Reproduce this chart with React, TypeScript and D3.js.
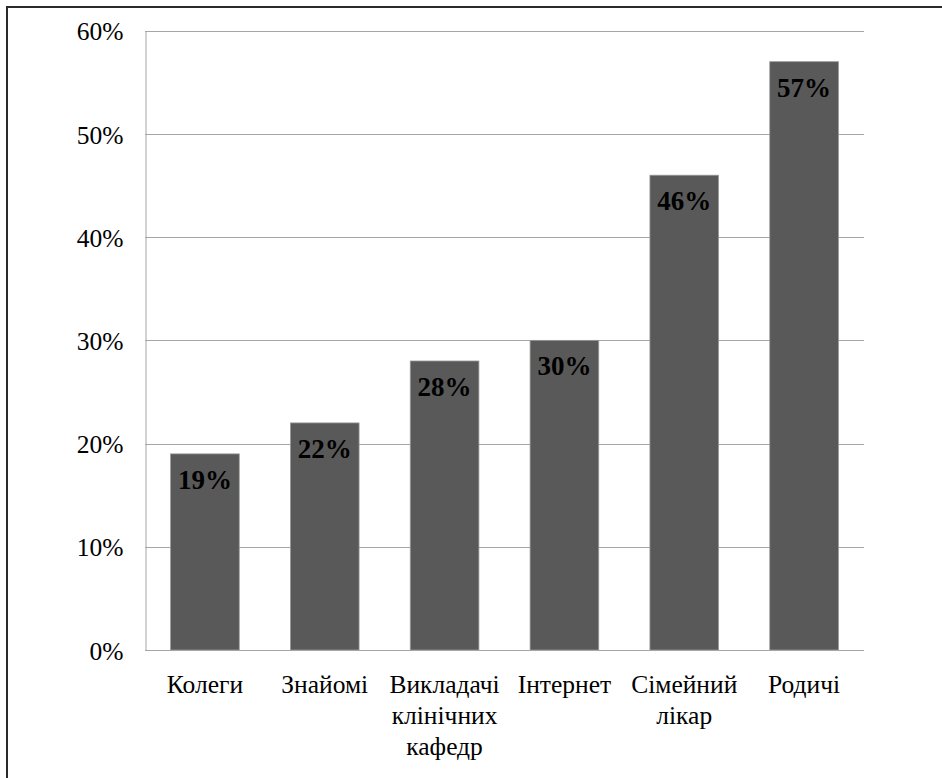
import { axisLeft, scaleBand, scaleLinear, select } from "d3";
import { useEffect, useRef } from "react";

const categories = [
  ["Колеги"],
  ["Знайомі"],
  ["Викладачі", "клінічних", "кафедр"],
  ["Інтернет"],
  ["Сімейний", "лікар"],
  ["Родичі"],
];
const values = [19, 22, 28, 30, 46, 57];
const yTicks = [0, 10, 20, 30, 40, 50, 60];

const width = 942;
const height = 778;
const margin = { top: 30.7, right: 78, bottom: 128, left: 145 };
const font = "Liberation Serif";

const App = () => {
  const ref = useRef<SVGSVGElement>(null);

  useEffect(() => {
    if (!ref.current) return;
    const svg = select(ref.current);
    svg.selectAll("*").remove();

    const x = scaleBand<number>()
      .domain(values.map((_, i) => i))
      .range([margin.left, width - margin.right])
      .paddingInner(0.427)
      .paddingOuter(0.2135);

    const y = scaleLinear()
      .domain([0, 60])
      .range([height - margin.bottom, margin.top]);

    // outer frame (right and bottom edges sit outside the picture)
    svg
      .append("rect")
      .attr("x", 7)
      .attr("y", 7)
      .attr("width", width)
      .attr("height", height)
      .attr("fill", "none")
      .attr("stroke", "#2b2b2b")
      .attr("stroke-width", 2);

    // grid
    svg
      .append("g")
      .selectAll("line")
      .data(yTicks.slice(1))
      .join("line")
      .attr("x1", margin.left)
      .attr("x2", width - margin.right)
      .attr("y1", (d) => Math.round(y(d)) + 0.5)
      .attr("y2", (d) => Math.round(y(d)) + 0.5)
      .attr("stroke", "#a6a6a6")
      .attr("stroke-width", 1);

    // y axis
    const yAxis = axisLeft(y)
      .tickValues(yTicks)
      .tickSize(0)
      .tickPadding(22)
      .tickFormat((d) => `${d}%`);

    const gy = svg
      .append("g")
      .attr("transform", `translate(${margin.left + 0.5},0)`)
      .call(yAxis)
      .attr("font-family", null)
      .attr("font-size", null);
    gy.select(".domain").attr("stroke", "#a6a6a6");
    gy.selectAll("text")
      .style("font-family", font)
      .style("font-size", "25.5px")
      .attr("fill", "#000")
      .attr("dy", "0.36em");

    // bars
    svg
      .append("g")
      .selectAll("rect")
      .data(values)
      .join("rect")
      .attr("x", (_, i) => x(i)!)
      .attr("y", (d) => y(d))
      .attr("width", x.bandwidth())
      .attr("height", (d) => y(0) - y(d))
      .attr("fill", "#595959")
      .attr("stroke", "#9a9a9a")
      .attr("stroke-width", 0.8);

    // x axis line
    svg
      .append("line")
      .attr("x1", margin.left)
      .attr("x2", width - margin.right)
      .attr("y1", Math.round(y(0)) + 0.5)
      .attr("y2", Math.round(y(0)) + 0.5)
      .attr("stroke", "#a6a6a6");

    // value labels
    svg
      .append("g")
      .selectAll("text")
      .data(values)
      .join("text")
      .attr("x", (_, i) => x(i)! + x.bandwidth() / 2)
      .attr("y", (d) => y(d) + 35)
      .attr("text-anchor", "middle")
      .style("font-family", font)
      .style("font-weight", "bold")
      .style("font-size", "27px")
      .attr("fill", "#000")
      .text((d) => `${d}%`);

    // category labels
    const cat = svg
      .append("g")
      .selectAll("text")
      .data(categories)
      .join("text")
      .attr("text-anchor", "middle")
      .style("font-family", font)
      .style("font-size", "25.5px")
      .attr("fill", "#000");

    cat
      .selectAll("tspan")
      .data((d, i) => d.map((line) => ({ line, i })))
      .join("tspan")
      .attr("x", (d) => x(d.i)! + x.bandwidth() / 2)
      .attr("y", (_, j) => y(0) + 43 + j * 31)
      .text((d) => d.line);
  }, []);

  return (
    <svg
      ref={ref}
      width={width}
      height={height}
      style={{ position: "absolute", left: 0, top: 0, background: "#fff" }}
    />
  );
};

export default App;
